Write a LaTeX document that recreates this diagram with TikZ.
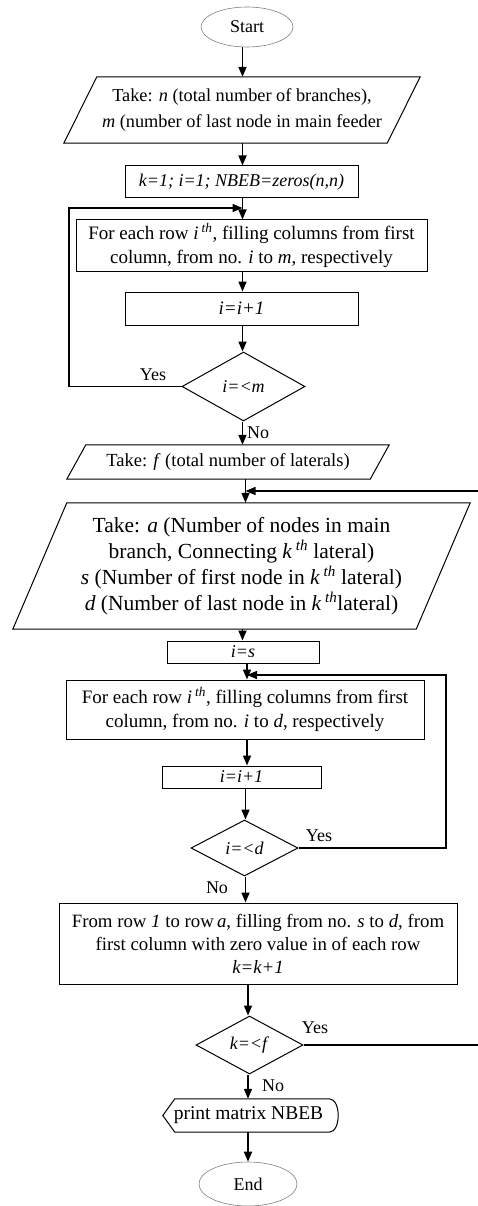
\documentclass[tikz,border=0pt]{standalone}
\usepackage{fontspec}
\setmainfont{Liberation Serif}
\usetikzlibrary{shapes.geometric,arrows.meta,calc}
\begin{document}
\begin{tikzpicture}[x=1pt,y=-1pt,
  box/.style={draw,line width=1pt,inner sep=0pt,align=center,font=\fontsize{19}{24}\selectfont},
  txt/.style={inner sep=0pt,align=center,font=\fontsize{18.5}{24}\selectfont},
  dia/.style={draw,diamond,line width=1pt,inner sep=0pt,font=\fontsize{18}{24}\selectfont},
  term/.style={draw=gray,ellipse,line width=0.6pt,inner sep=0pt,font=\fontsize{18}{22}\selectfont},
  arr/.style={line width=1.7pt,-{Triangle[length=10pt,width=8pt]}},
  ln/.style={line width=1.5pt},
  para/.style={line width=1pt},
  lbl/.style={font=\fontsize{18}{22}\selectfont,inner sep=0pt}
]
\useasboundingbox (0,0) rectangle (477,1206);
\coordinate (cA) at (242.5,0);
\coordinate (cB) at (245.5,0);
\coordinate (cC) at (248,0);

% nodes
\node[term,minimum width=92pt,minimum height=40pt] (start) at (247,27) {Start};
\node[txt,minimum width=356pt,minimum height=66pt,font=\fontsize{18.3}{26}\selectfont] (in1) at (242,110)
  {Take: \textit{n} (total number of branches),\\\textit{m} (number of last node in main feeder};
\draw[para] ([xshift=33pt]in1.north west) -- (in1.north east) -- ([xshift=-33pt]in1.south east) -- (in1.south west) -- cycle;
\node[box,minimum width=233pt,minimum height=32pt,font=\fontsize{18}{24}\selectfont] (init) at (241.5,182) {\textit{k=1; i=1; NBEB=zeros(n,n)}};
\node[box,minimum width=351pt,minimum height=51pt] (fill1) at (251.5,245.5)
  {For each row \textit{i}\,\textsuperscript{\textit{th}}, filling columns from first\\column, from no. \textit{i} to \textit{m}, respectively};
\node[box,minimum width=233pt,minimum height=33pt] (inc1) at (241.5,308.5) {\textit{i=i+1}};
\node[dia,minimum width=123pt,minimum height=69pt] (dec1) at (243.5,386.5) {\textit{i=<m}};
\node[txt,minimum width=322pt,minimum height=34pt] (in2) at (228,462) {Take: \textit{f} (total number of laterals)};
\draw[para] ([xshift=19pt]in2.north west) -- (in2.north east) -- ([xshift=-19pt]in2.south east) -- (in2.south west) -- cycle;
\node[txt,minimum width=457pt,minimum height=126pt,font=\fontsize{21.5}{26}\selectfont] (in3) at (241.5,566)
  {Take: \textit{a} (Number of nodes in main\\
   branch, Connecting \textit{k}\,\textsuperscript{\textit{th}} lateral)\\
   \textit{s} (Number of first node in \textit{k}\,\textsuperscript{\textit{th}} lateral)\\
   \textit{d} (Number of last node in \textit{k}\,\textsuperscript{\textit{th}}lateral)};
\draw[para] ([xshift=54pt]in3.north west) -- (in3.north east) -- ([xshift=-54pt]in3.south east) -- (in3.south west) -- cycle;
\node[box,minimum width=152pt,minimum height=22pt,font=\fontsize{18}{24}\selectfont] (set) at (243,652) {\textit{i=s}};
\node[box,minimum width=358pt,minimum height=59pt] (fill2) at (245,709.5)
  {For each row \textit{i}\,\textsuperscript{\textit{th}}, filling columns from first\\column, from no. \textit{i} to \textit{d}, respectively};
\node[box,minimum width=159pt,minimum height=22pt,font=\fontsize{18}{24}\selectfont] (inc2) at (241.5,777) {\textit{i=i+1}};
\node[dia,minimum width=107pt,minimum height=56pt] (dec2) at (244.5,848) {\textit{i=<d}};
\node[box,minimum width=398pt,minimum height=81pt,font=\fontsize{18.8}{23}\selectfont] (fin) at (258,943.5)
  {From row \textit{1} to row\,\textit{a}, filling from no. \textit{s} to \textit{d}, from\\first column with zero value in of each row\\\textit{k=k+1}};
\node[dia,minimum width=107pt,minimum height=58pt] (dec3) at (249.5,1045) {\textit{k=<f}};
\node[txt,minimum width=175pt,minimum height=33pt,font=\fontsize{19.5}{24}\selectfont] (pr) at (250.5,1115.5) {\hspace*{-4pt}print matrix NBEB};
\draw[para] (pr.west) -- ([xshift=12pt]pr.north west) -- ([xshift=-9pt]pr.north east)
  .. controls ([xshift=3pt]pr.north east) and ([xshift=3pt]pr.south east) .. ([xshift=-9pt]pr.south east)
  -- ([xshift=12pt]pr.south west) -- cycle;
\node[term,minimum width=98pt,minimum height=44pt] (end) at (248,1184) {End};

% junction coordinates
\coordinate (j1) at (242.5,208);
\coordinate (j2) at (245.5,491);
\coordinate (j3) at (247,675);
\coordinate (r1) at (69,386.5);
\coordinate (r2) at (480,1045);
\coordinate (r3) at (446,848);

% main flow
\draw[arr] (start.south -| cA) -- (in1.north -| cA);
\draw[arr] (in1.south -| cA) -- (init.north -| cA);
\draw[arr] (init.south -| cA) -- (fill1.north -| cA);
\draw[arr] (fill1.south -| cA) -- (inc1.north -| cA);
\draw[arr] (inc1.south -| cA) -- (dec1.north -| cA);
\draw[arr] (dec1.south -| cA) -- (in2.north -| cA);
\draw[arr] (in2.south -| cB) -- (in3.north -| cB);
\draw[arr] (in3.south -| cA) -- (set.north -| cA);
\draw[arr] (set.south -| j3) -- (fill2.north -| j3);
\draw[arr] (fill2.south -| j3) -- (inc2.north -| j3);
\draw[arr] (inc2.south -| cB) -- (dec2.north -| cB);
\draw[arr] (dec2.south -| cB) -- (fin.north -| cB);
\draw[arr] (fin.south -| cC) -- (dec3.north -| cC);
\draw[arr] (dec3.south -| cC) -- (pr.north -| cC);
\draw[arr] (pr.south -| cC) -- (end.north -| cC);

% loops
\draw[ln,-{Triangle[length=10pt,width=8pt]}] (dec1.west) -- (r1) |- (j1);
\draw[ln,-{Triangle[length=10pt,width=8pt]}] (dec2.east) -- (r3) |- (j3);
\draw[ln,-{Triangle[length=10pt,width=8pt]}] (dec3.east) -- (r2) |- (j2);

% labels
\node[lbl] (y1) at (153,375) {Yes};
\node[lbl] (n1) at (258,433) {No};
\node[lbl] (y2) at (319,836) {Yes};
\node[lbl] (n2) at (217,888) {No};
\node[lbl] (y3) at (315,1028) {Yes};
\node[lbl] (n3) at (273,1086) {No};
\end{tikzpicture}
\end{document}
